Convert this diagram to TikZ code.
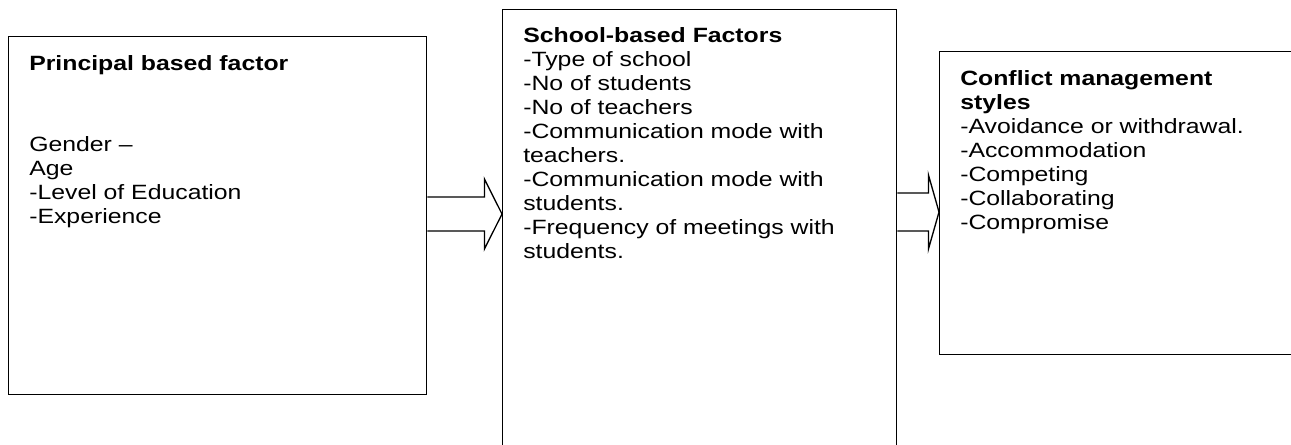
\documentclass[tikz,border=0pt]{standalone}
\usepackage{fontspec}
\setmainfont{Liberation Sans}[FakeStretch=1.2]
\usetikzlibrary{positioning,calc}

\begin{document}
\begin{tikzpicture}[x=0.75pt, y=-0.75pt,
  box/.style={draw, line width=1.1pt, anchor=north west, inner sep=0pt},
  txt/.style={anchor=north west, align=left, inner sep=0pt, font=\fontsize{15.5}{18}\selectfont},
  hollow/.style={draw, line width=1pt, line join=miter}]
\useasboundingbox (0,0) rectangle (1291,444);
\node[box, minimum width=313.5pt, minimum height=268.5pt] (pbf) at (8,36) {};
\node[box, minimum width=295.5pt, minimum height=345.75pt] (sbf) at (502,9) {};
\node[box, minimum width=285.75pt, minimum height=227.25pt] (cms) at (939,51) {};
\node[txt] (pbftxt) at ($(pbf.north west)+(21,19)$) {\textbf{Principal based factor}\\[42.75pt]
  Gender --\\Age\\-Level of Education\\-Experience};
\node[txt] (sbftxt) at ($(sbf.north west)+(21,18)$) {\textbf{School-based Factors}\\-Type of school\\
  -No of students\\-No of teachers\\-Communication mode with\\teachers.\\
  -Communication mode with\\students.\\-Frequency of meetings with\\students.};
\node[txt] (cmstxt) at ($(cms.north west)+(21,19)$) {\textbf{Conflict management}\\\textbf{styles}\\
  -Avoidance or withdrawal.\\-Accommodation\\-Competing\\-Collaborating\\-Compromise};
\coordinate (a1) at (pbf.east |- 0,214);
\coordinate (a2) at (sbf.east |- 0,212);
\draw[hollow] ($(a1)+(0,-17)$) -- ++(57,0) -- ++(0,-18) -- (sbf.west |- a1)
  -- ($(a1)+(57,35)$) -- ++(0,-18) -- ($(a1)+(0,17)$);
\draw[hollow] ($(a2)+(0,-19)$) -- ++(31,0) -- ++(0,-18) -- (cms.west |- a2)
  -- ($(a2)+(31,37)$) -- ++(0,-18) -- ($(a2)+(0,19)$);
\end{tikzpicture}
\end{document}
